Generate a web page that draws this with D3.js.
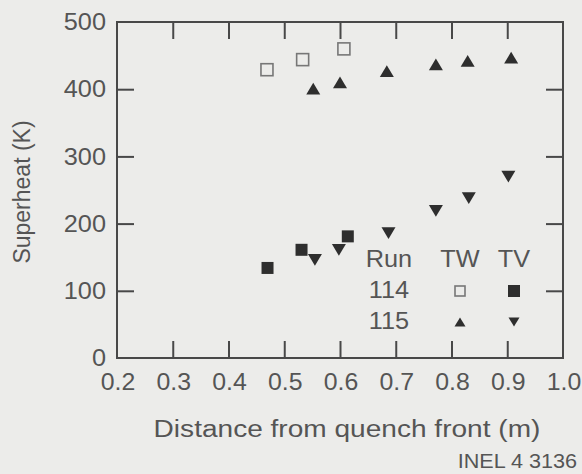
<!DOCTYPE html>
<html>
<head>
<meta charset="utf-8">
<script src="https://cdn.jsdelivr.net/npm/d3@7"></script>
<style>
  body { margin: 0; background: #ececea; }
  text { font-family: "Liberation Sans", Arial, sans-serif; fill: #555; }
</style>
</head>
<body>
<svg></svg>
<script>
// superheat vs distance from quench front

const width = 582
const height = 474
const margin = {top: 22, right: 19, bottom: 116, left: 117}

const axisColour = "#484848"
const markColour = "#2e2e2e"
const openColour = "#777"

// run 114, wall (TW) - open squares
const run114TWx = [0.469, 0.533, 0.607]
const run114TWy = [429, 444, 460]
// run 114, vapour (TV) - filled squares
const run114TVx = [0.470, 0.531, 0.614]
const run114TVy = [134, 161, 181]
// run 115, wall (TW) - up triangles
const run115TWx = [0.552, 0.600, 0.684, 0.772, 0.829, 0.907]
const run115TWy = [401, 410, 427, 437, 442, 447]
// run 115, vapour (TV) - down triangles
const run115TVx = [0.555, 0.598, 0.687, 0.772, 0.831, 0.902]
const run115TVy = [146, 161, 186, 219, 238, 270]

const xTicks = [0.2, 0.3, 0.4, 0.5, 0.6, 0.7, 0.8, 0.9, 1.0]
const yTicks = [0, 100, 200, 300, 400, 500]

const series = [
  {xs: run114TWx, ys: run114TWy, shape: "openSquare"},
  {xs: run114TVx, ys: run114TVy, shape: "square"},
  {xs: run115TWx, ys: run115TWy, shape: "up"},
  {xs: run115TVx, ys: run115TVy, shape: "down"}
]

const svg = d3.select("svg")
  .attr("width", width)
  .attr("height", height)

const x = d3.scaleLinear().domain([0.2, 1.0]).range([margin.left, width - margin.right])
const y = d3.scaleLinear().domain([0, 500]).range([height - margin.bottom, margin.top])

const tickLen = 17

// the original lettering is a bit wider than Liberation Sans, so stretch it
const stretch = (sel, k) => sel.each(function() {
  const len = this.getComputedTextLength()
  d3.select(this).attr("textLength", len * k).attr("lengthAdjust", "spacingAndGlyphs")
})

// frame
svg.append("rect")
  .attr("x", x(0.2)).attr("y", y(500))
  .attr("width", x(1.0) - x(0.2)).attr("height", y(0) - y(500))
  .attr("fill", "none").attr("stroke", axisColour).attr("stroke-width", 2)

// inward ticks on all four sides, via d3 axes
const styleAxis = g => {
  g.select(".domain").remove()
  g.selectAll(".tick line").attr("stroke", axisColour).attr("stroke-width", 2)
}
svg.append("g")
  .attr("transform", `translate(0,${y(0)})`)
  .call(d3.axisTop(x).tickValues(xTicks.slice(1, -1)).tickSize(tickLen).tickFormat(""))
  .call(styleAxis)
svg.append("g")
  .attr("transform", `translate(0,${y(500)})`)
  .call(d3.axisBottom(x).tickValues(xTicks.slice(1, -1)).tickSize(tickLen).tickFormat(""))
  .call(styleAxis)
svg.append("g")
  .attr("transform", `translate(${x(0.2)},0)`)
  .call(d3.axisRight(y).tickValues(yTicks.slice(1, -1)).tickSize(tickLen).tickFormat(""))
  .call(styleAxis)
svg.append("g")
  .attr("transform", `translate(${x(1.0)},0)`)
  .call(d3.axisLeft(y).tickValues(yTicks.slice(1, -1)).tickSize(tickLen).tickFormat(""))
  .call(styleAxis)

// tick labels
svg.append("g").selectAll("text")
  .data(xTicks)
  .join("text")
    .attr("x", d => x(d) + 1)
    .attr("y", y(0) + 32)
    .attr("text-anchor", "middle")
    .style("font-size", "23px")
    .text(d => d3.format(".1f")(d))
    .call(stretch, 1.08)

svg.append("g").selectAll("text")
  .data(yTicks)
  .join("text")
    .attr("x", x(0.2) - 11)
    .attr("y", d => y(d))
    .attr("dy", "0.36em")
    .attr("text-anchor", "end")
    .style("font-size", "23px")
    .text(d => d)
    .call(stretch, 1.1)

// axis titles
svg.append("text")
  .attr("x", 347)
  .attr("y", 437)
  .attr("text-anchor", "middle")
  .style("font-size", "23px")
  .text("Distance from quench front (m)")
  .call(stretch, 1.22)

svg.append("text")
  .attr("transform", `translate(30,192) rotate(-90)`)
  .attr("text-anchor", "middle")
  .style("font-size", "23px")
  .text("Superheat (K)")

svg.append("text")
  .attr("x", 577)
  .attr("y", 468)
  .attr("text-anchor", "end")
  .style("font-size", "20px")
  .text("INEL 4 3136")
  .call(stretch, 1.08)

// markers
const drawMark = (g, shape, size) => {
  if (shape === "openSquare") {
    g.append("rect")
      .attr("x", -size / 2).attr("y", -size / 2)
      .attr("width", size).attr("height", size)
      .attr("fill", "none").attr("stroke", openColour).attr("stroke-width", 1.6)
  } else if (shape === "square") {
    g.append("rect")
      .attr("x", -size / 2).attr("y", -size / 2)
      .attr("width", size).attr("height", size)
      .attr("fill", markColour)
  } else {
    const w = size * 0.5, h = size * 0.42
    const pts = shape === "up"
      ? [[0, -h], [w, h], [-w, h]]
      : [[0, h], [w, -h], [-w, -h]]
    g.append("path")
      .attr("d", d3.line()(pts) + "Z")
      .attr("fill", markColour)
  }
}

series.forEach(s => {
  s.xs.forEach((xv, i) => {
    const g = svg.append("g").attr("transform", `translate(${x(xv)},${y(s.ys[i])})`)
    drawMark(g, s.shape, s.shape === "openSquare" ? 12 : s.shape === "square" ? 12 : 14)
  })
})

// legend, inside the plot
const legendCols = [389, 460, 514]
const legendRows = [259, 290, 321]
const legendHead = ["Run", "TW", "TV"]
const legendRuns = ["114", "115"]
const legendShapes = [["openSquare", "square"], ["up", "down"]]

const legend = svg.append("g")
legend.selectAll(".head")
  .data(legendHead)
  .join("text")
    .attr("x", (d, i) => legendCols[i])
    .attr("y", legendRows[0])
    .attr("dy", "0.36em")
    .attr("text-anchor", "middle")
    .style("font-size", "23px")
    .text(d => d)
    .call(stretch, 1.1)

legendRuns.forEach((run, r) => {
  legend.append("text")
    .attr("x", legendCols[0])
    .attr("y", legendRows[r + 1])
    .attr("dy", "0.36em")
    .attr("text-anchor", "middle")
    .style("font-size", "23px")
    .text(run)
    .call(stretch, 1.1)
  legendShapes[r].forEach((shape, c) => {
    const g = legend.append("g")
      .attr("transform", `translate(${legendCols[c + 1]},${legendRows[r + 1] + 1})`)
    drawMark(g, shape, shape === "openSquare" ? 10 : shape === "square" ? 12 : 11)
  })
})
</script>
</body>
</html>
